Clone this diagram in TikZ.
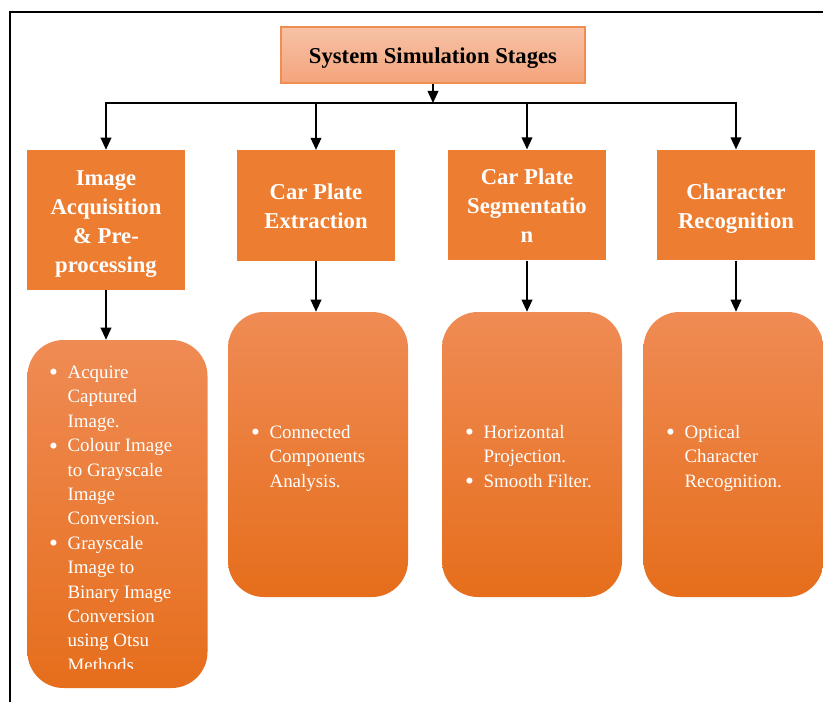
\documentclass[tikz,border=0pt]{standalone}
\usepackage{fontspec}
\setmainfont{Liberation Serif}
\usepackage{xcolor}
\usetikzlibrary{arrows.meta}

\definecolor{stageorange}{RGB}{237,125,49}
\definecolor{titletop}{RGB}{247,194,166}
\definecolor{titlebot}{RGB}{244,164,124}
\definecolor{titleline}{RGB}{240,142,82}
\definecolor{roundtop}{RGB}{239,139,84}
\definecolor{roundbot}{RGB}{230,110,28}

% stage titles sit a little low in their boxes
\newcommand{\stagetext}[1]{\raisebox{-2.25pt}[\height][\depth]{\begin{tabular}{@{}c@{}}#1\end{tabular}}}
\newcommand{\listdot}{\makebox[5pt][c]{\raisebox{-1.8pt}{\fontsize{19pt}{19pt}\selectfont\textbullet}}}

\begin{document}
\begin{tikzpicture}[x=0.75pt,y=-0.75pt]
    \tikzstyle{T}=[rectangle,draw=titleline,line width=1.2pt,top color=titletop,bottom color=titlebot,minimum width=228pt,minimum height=42pt,inner sep=0pt,font=\fontsize{17pt}{21.75pt}\selectfont\bfseries]
    \tikzstyle{H}=[rectangle,fill=stageorange,text=white,minimum width=119pt,inner sep=0pt,align=center,font=\fontsize{17pt}{21.75pt}\selectfont\bfseries]
    \tikzstyle{R}=[rectangle,rounded corners=27pt,top color=roundtop,bottom color=roundbot,minimum width=135pt,inner sep=0pt]
    \tikzstyle{B}=[anchor=west,inner sep=0pt,text=white,font=\fontsize{14.2pt}{18.3pt}\selectfont]
    \tikzstyle{arr}=[line width=1.1pt,-{Triangle[width=8pt,length=9pt]}]

   \useasboundingbox (0,0) rectangle (823,702);
   \draw [line width=1.5pt] (10,702) -- (10,12) -- (823,12);

   \node [T] (title) at (433,55) {\stagetext{System Simulation Stages}};

   \node [H,minimum height=105pt] (acq) at (106,220) {\stagetext{Image\\Acquisition\\\& Pre-\\processing}};
   \node [H,minimum height=83pt] (ext) at (316,205.5) {\stagetext{Car Plate\\Extraction}};
   \node [H,minimum height=83pt] (seg) at (527,205) {\stagetext{Car Plate\\Segmentatio\\n}};
   \node [H,minimum height=83pt] (rec) at (736,205) {\stagetext{Character\\Recognition}};

   \node [R,minimum height=261pt] (acqlist) at (117.5,514) {};
   \node [R,minimum height=213.75pt] (extlist) at (318,454.5) {};
   \node [R,minimum height=213.75pt] (seglist) at (532,454.5) {};
   \node [R,minimum height=213.75pt] (reclist) at (733.5,454.5) {};

   \begin{scope}
   \clip (27,340) rectangle (208,668);
   \node [B] (acqtext) at (50,520) {\begin{tabular}{@{}l@{\hspace{8pt}}l@{}}
      \listdot & Acquire\\ & Captured\\ & Image.\\
      \listdot & Colour Image\\ & to Grayscale\\ & Image\\ & Conversion.\\
      \listdot & Grayscale\\ & Image to\\ & Binary Image\\ & Conversion\\ & using Otsu\\ & Methods
   \end{tabular}};
   \end{scope}
   \node [B] (exttext) at (252,458) {\begin{tabular}{@{}l@{\hspace{8pt}}l@{}}
      \listdot & Connected\\ & Components\\ & Analysis.
   \end{tabular}};
   \node [B] (segtext) at (466,458) {\begin{tabular}{@{}l@{\hspace{8pt}}l@{}}
      \listdot & Horizontal\\ & Projection.\\
      \listdot & Smooth Filter.
   \end{tabular}};
   \node [B] (rectext) at (667,458) {\begin{tabular}{@{}l@{\hspace{8pt}}l@{}}
      \listdot & Optical\\ & Character\\ & Recognition.
   \end{tabular}};

   \coordinate (bus) at (433,103);
   \draw [arr] (title.south) -- (bus);
   \draw [arr] (bus) -| (acq);
   \draw [arr] (bus) -| (ext);
   \draw [arr] (bus) -| (seg);
   \draw [arr] (bus) -| (rec);

   \draw [arr] (acq) -- (acq |- acqlist.north);
   \draw [arr] (ext) -- (ext |- extlist.north);
   \draw [arr] (seg) -- (seg |- seglist.north);
   \draw [arr] (rec) -- (rec |- reclist.north);
\end{tikzpicture}
\end{document}
